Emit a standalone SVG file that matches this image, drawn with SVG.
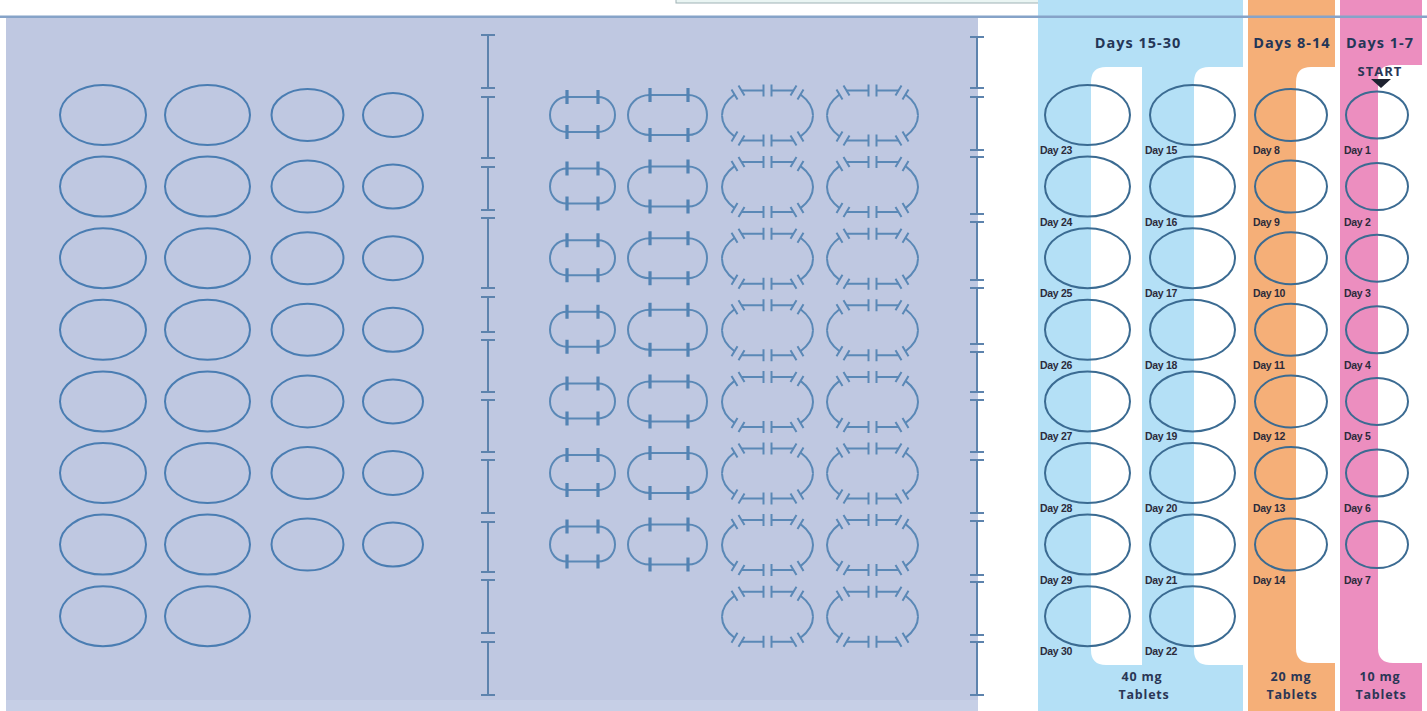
<svg xmlns="http://www.w3.org/2000/svg" width="1427" height="711" viewBox="0 0 1427 711">
<style>
.pl{fill:none;stroke:#4a7db2;stroke-width:2}
.pr{fill:none;stroke:#3b6b92;stroke-width:2}
.cap{fill:none;stroke:#5a88b6;stroke-width:2}
.tk{fill:none;stroke:#5383b3;stroke-width:3.2}
.dim{fill:none;stroke:#5d83ad;stroke-width:2}
.day{font-family:"Liberation Sans",Arial,sans-serif;font-weight:bold;font-size:10.5px;fill:#2c2b3b;letter-spacing:-0.3px}
.hdr{font-family:"Open Sans","Liberation Sans",sans-serif;font-weight:bold;font-size:14.5px;fill:#243657;text-anchor:middle;letter-spacing:1px}
.ftr{font-family:"Open Sans","Liberation Sans",sans-serif;font-weight:bold;font-size:12.5px;fill:#2a3655;text-anchor:middle;letter-spacing:0.8px}
</style>
<defs>
<g id="capA">
<path class="cap" d="M-15.5,-18H15.5C26,-18 32.5,-9 32.5,0C32.5,9 26,17 15.5,17H-15.5C-26,17 -32.5,9 -32.5,0C-32.5,-9 -26,-18 -15.5,-18Z"/>
<path class="tk" d="M-15.5,-25V-11M15.5,-25V-11M-15.5,10V24M15.5,10V24"/>
</g>
<g id="capB">
<path class="cap" d="M-17.5,-20H20.5C33,-20 39.5,-10 39.5,0C39.5,10 33,20 20.5,20H-17.5C-31,20 -39.5,10 -39.5,0C-39.5,-10 -31,-20 -17.5,-20Z"/>
<path class="tk" d="M-17.5,-27V-13M20.5,-27V-13M-17.5,13V27M20.5,13V27"/>
</g>
<g id="cq">
<path class="cap" d="M4,-25H26M33,-21C41,-15 45.5,-8 45.5,0"/>
<path class="cap" d="M4,-31V-19M29,-30L23,-20M36,-26L30,-16"/>
</g>
<g id="capC">
<use href="#cq"/><use href="#cq" transform="scale(-1,1)"/><use href="#cq" transform="scale(1,-1)"/><use href="#cq" transform="scale(-1,-1)"/>
</g>
</defs>

<rect width="1427" height="711" fill="#ffffff"/>
<rect x="676" y="-6" width="522" height="9" fill="#eaf5f3" stroke="#9fb2b5" stroke-width="1"/>

<g id="panel">
<rect x="6" y="18" width="972" height="693" fill="#bfc8e1"/>
<rect x="6" y="700" width="972" height="11" fill="#c6cfe6"/>
</g>

<g id="bands">
<rect x="1038" y="0" width="205" height="711" fill="#b4e0f6"/>
<path d="M1142,67H1106Q1091,67 1091,82V650Q1091,665 1106,665H1142Z" fill="#ffffff"/>
<path d="M1248,67H1209Q1194,67 1194,82V650Q1194,665 1209,665H1248Z" fill="#ffffff"/>
<rect x="1248" y="0" width="87" height="711" fill="#f5af78"/>
<path d="M1340,67H1311Q1296,67 1296,82V648Q1296,663 1311,663H1340Z" fill="#ffffff"/>
<rect x="1340" y="0" width="82" height="711" fill="#ec8ebf"/>
<path d="M1427,65H1393Q1378,65 1378,80V648Q1378,663 1393,663H1427Z" fill="#ffffff"/>
</g>

<rect id="topline" x="0" y="15.5" width="1427" height="2.5" fill="#86a3c8"/>

<g id="dimensions">
<path class="dim" d="M488,35V88M488,97V158M488,167V210M488,218V288M488,297V332M488,340V392M488,400V452M488,460V513M488,522V572M488,580V633M488,642V695"/>
<path class="dim" d="M481,35H495M481,88H495M481,97H495M481,158H495M481,167H495M481,210H495M481,218H495M481,288H495M481,297H495M481,332H495M481,340H495M481,392H495M481,400H495M481,452H495M481,460H495M481,513H495M481,522H495M481,572H495M481,580H495M481,633H495M481,642H495M481,695H495"/>
<path class="dim" d="M977,37V88M977,97V150M977,157V214M977,222V280M977,288V344M977,352V392M977,400V452M977,460V513M977,521V575M977,582V635M977,642V695"/>
<path class="dim" d="M970,37H984M970,88H984M970,97H984M970,150H984M970,157H984M970,214H984M970,222H984M970,280H984M970,288H984M970,344H984M970,352H984M970,392H984M970,400H984M970,452H984M970,460H984M970,513H984M970,521H984M970,575H984M970,582H984M970,635H984M970,642H984M970,695H984"/>
</g>

<g id="left-tablets">
<ellipse class="pl" cx="103" cy="115" rx="43" ry="30"/><ellipse class="pl" cx="207.5" cy="115" rx="42.5" ry="30"/><ellipse class="pl" cx="307.5" cy="115" rx="36" ry="26"/><ellipse class="pl" cx="393" cy="115" rx="30" ry="22"/>
<ellipse class="pl" cx="103" cy="186.6" rx="43" ry="30"/><ellipse class="pl" cx="207.5" cy="186.6" rx="42.5" ry="30"/><ellipse class="pl" cx="307.5" cy="186.6" rx="36" ry="26"/><ellipse class="pl" cx="393" cy="186.6" rx="30" ry="22"/>
<ellipse class="pl" cx="103" cy="258.2" rx="43" ry="30"/><ellipse class="pl" cx="207.5" cy="258.2" rx="42.5" ry="30"/><ellipse class="pl" cx="307.5" cy="258.2" rx="36" ry="26"/><ellipse class="pl" cx="393" cy="258.2" rx="30" ry="22"/>
<ellipse class="pl" cx="103" cy="329.8" rx="43" ry="30"/><ellipse class="pl" cx="207.5" cy="329.8" rx="42.5" ry="30"/><ellipse class="pl" cx="307.5" cy="329.8" rx="36" ry="26"/><ellipse class="pl" cx="393" cy="329.8" rx="30" ry="22"/>
<ellipse class="pl" cx="103" cy="401.4" rx="43" ry="30"/><ellipse class="pl" cx="207.5" cy="401.4" rx="42.5" ry="30"/><ellipse class="pl" cx="307.5" cy="401.4" rx="36" ry="26"/><ellipse class="pl" cx="393" cy="401.4" rx="30" ry="22"/>
<ellipse class="pl" cx="103" cy="473" rx="43" ry="30"/><ellipse class="pl" cx="207.5" cy="473" rx="42.5" ry="30"/><ellipse class="pl" cx="307.5" cy="473" rx="36" ry="26"/><ellipse class="pl" cx="393" cy="473" rx="30" ry="22"/>
<ellipse class="pl" cx="103" cy="544.6" rx="43" ry="30"/><ellipse class="pl" cx="207.5" cy="544.6" rx="42.5" ry="30"/><ellipse class="pl" cx="307.5" cy="544.6" rx="36" ry="26"/><ellipse class="pl" cx="393" cy="544.6" rx="30" ry="22"/>
<ellipse class="pl" cx="103" cy="616.2" rx="43" ry="30"/><ellipse class="pl" cx="207.5" cy="616.2" rx="42.5" ry="30"/>
</g>

<g id="capsules">
<use href="#capA" x="582.5" y="115"/><use href="#capB" x="667.5" y="115"/><use href="#capC" x="767.5" y="115.5"/><use href="#capC" x="872.5" y="115.5"/>
<use href="#capA" x="582.5" y="186.6"/><use href="#capB" x="667.5" y="186.6"/><use href="#capC" x="767.5" y="187.1"/><use href="#capC" x="872.5" y="187.1"/>
<use href="#capA" x="582.5" y="258.2"/><use href="#capB" x="667.5" y="258.2"/><use href="#capC" x="767.5" y="258.7"/><use href="#capC" x="872.5" y="258.7"/>
<use href="#capA" x="582.5" y="329.8"/><use href="#capB" x="667.5" y="329.8"/><use href="#capC" x="767.5" y="330.3"/><use href="#capC" x="872.5" y="330.3"/>
<use href="#capA" x="582.5" y="401.4"/><use href="#capB" x="667.5" y="401.4"/><use href="#capC" x="767.5" y="401.9"/><use href="#capC" x="872.5" y="401.9"/>
<use href="#capA" x="582.5" y="473"/><use href="#capB" x="667.5" y="473"/><use href="#capC" x="767.5" y="473.5"/><use href="#capC" x="872.5" y="473.5"/>
<use href="#capA" x="582.5" y="544.6"/><use href="#capB" x="667.5" y="544.6"/><use href="#capC" x="767.5" y="545.1"/><use href="#capC" x="872.5" y="545.1"/>
<use href="#capC" x="767.5" y="616.7"/><use href="#capC" x="872.5" y="616.7"/>
</g>

<g id="days-15-30">
<text class="hdr" x="1138" y="48">Days 15-30</text>
<ellipse class="pr" cx="1087.5" cy="115" rx="42.5" ry="30"/><ellipse class="pr" cx="1192.5" cy="115" rx="42.5" ry="30"/>
<ellipse class="pr" cx="1087.5" cy="186.6" rx="42.5" ry="30"/><ellipse class="pr" cx="1192.5" cy="186.6" rx="42.5" ry="30"/>
<ellipse class="pr" cx="1087.5" cy="258.2" rx="42.5" ry="30"/><ellipse class="pr" cx="1192.5" cy="258.2" rx="42.5" ry="30"/>
<ellipse class="pr" cx="1087.5" cy="329.8" rx="42.5" ry="30"/><ellipse class="pr" cx="1192.5" cy="329.8" rx="42.5" ry="30"/>
<ellipse class="pr" cx="1087.5" cy="401.4" rx="42.5" ry="30"/><ellipse class="pr" cx="1192.5" cy="401.4" rx="42.5" ry="30"/>
<ellipse class="pr" cx="1087.5" cy="473" rx="42.5" ry="30"/><ellipse class="pr" cx="1192.5" cy="473" rx="42.5" ry="30"/>
<ellipse class="pr" cx="1087.5" cy="544.6" rx="42.5" ry="30"/><ellipse class="pr" cx="1192.5" cy="544.6" rx="42.5" ry="30"/>
<ellipse class="pr" cx="1087.5" cy="616.2" rx="42.5" ry="30"/><ellipse class="pr" cx="1192.5" cy="616.2" rx="42.5" ry="30"/>
<text class="day" x="1040" y="154">Day 23</text><text class="day" x="1145" y="154">Day 15</text>
<text class="day" x="1040" y="225.6">Day 24</text><text class="day" x="1145" y="225.6">Day 16</text>
<text class="day" x="1040" y="297.2">Day 25</text><text class="day" x="1145" y="297.2">Day 17</text>
<text class="day" x="1040" y="368.8">Day 26</text><text class="day" x="1145" y="368.8">Day 18</text>
<text class="day" x="1040" y="440.4">Day 27</text><text class="day" x="1145" y="440.4">Day 19</text>
<text class="day" x="1040" y="512">Day 28</text><text class="day" x="1145" y="512">Day 20</text>
<text class="day" x="1040" y="583.6">Day 29</text><text class="day" x="1145" y="583.6">Day 21</text>
<text class="day" x="1040" y="655.2">Day 30</text><text class="day" x="1145" y="655.2">Day 22</text>
<text class="ftr" x="1142" y="681">40 mg</text><text class="ftr" x="1144" y="699">Tablets</text>
</g>

<g id="days-8-14">
<text class="hdr" x="1292" y="48">Days 8-14</text>
<ellipse class="pr" cx="1291" cy="115" rx="36" ry="26"/>
<ellipse class="pr" cx="1291" cy="186.6" rx="36" ry="26"/>
<ellipse class="pr" cx="1291" cy="258.2" rx="36" ry="26"/>
<ellipse class="pr" cx="1291" cy="329.8" rx="36" ry="26"/>
<ellipse class="pr" cx="1291" cy="401.4" rx="36" ry="26"/>
<ellipse class="pr" cx="1291" cy="473" rx="36" ry="26"/>
<ellipse class="pr" cx="1291" cy="544.6" rx="36" ry="26"/>
<text class="day" x="1253" y="154">Day 8</text>
<text class="day" x="1253" y="225.6">Day 9</text>
<text class="day" x="1253" y="297.2">Day 10</text>
<text class="day" x="1253" y="368.8">Day 11</text>
<text class="day" x="1253" y="440.4">Day 12</text>
<text class="day" x="1253" y="512">Day 13</text>
<text class="day" x="1253" y="583.6">Day 14</text>
<text class="ftr" x="1291" y="681">20 mg</text><text class="ftr" x="1292" y="699">Tablets</text>
</g>

<g id="days-1-7">
<text class="hdr" x="1380" y="48">Days 1-7</text>
<text class="ftr" x="1380" y="76" style="font-size:13px;letter-spacing:1px">START</text>
<polygon points="1371,79 1391,79 1381,88" fill="#1e2230"/>
<ellipse class="pr" cx="1377" cy="115" rx="31" ry="23.5"/>
<ellipse class="pr" cx="1377" cy="186.6" rx="31" ry="23.5"/>
<ellipse class="pr" cx="1377" cy="258.2" rx="31" ry="23.5"/>
<ellipse class="pr" cx="1377" cy="329.8" rx="31" ry="23.5"/>
<ellipse class="pr" cx="1377" cy="401.4" rx="31" ry="23.5"/>
<ellipse class="pr" cx="1377" cy="473" rx="31" ry="23.5"/>
<ellipse class="pr" cx="1377" cy="544.6" rx="31" ry="23.5"/>
<text class="day" x="1344" y="154">Day 1</text>
<text class="day" x="1344" y="225.6">Day 2</text>
<text class="day" x="1344" y="297.2">Day 3</text>
<text class="day" x="1344" y="368.8">Day 4</text>
<text class="day" x="1344" y="440.4">Day 5</text>
<text class="day" x="1344" y="512">Day 6</text>
<text class="day" x="1344" y="583.6">Day 7</text>
<text class="ftr" x="1380" y="681">10 mg</text><text class="ftr" x="1381" y="699">Tablets</text>
</g>
</svg>
